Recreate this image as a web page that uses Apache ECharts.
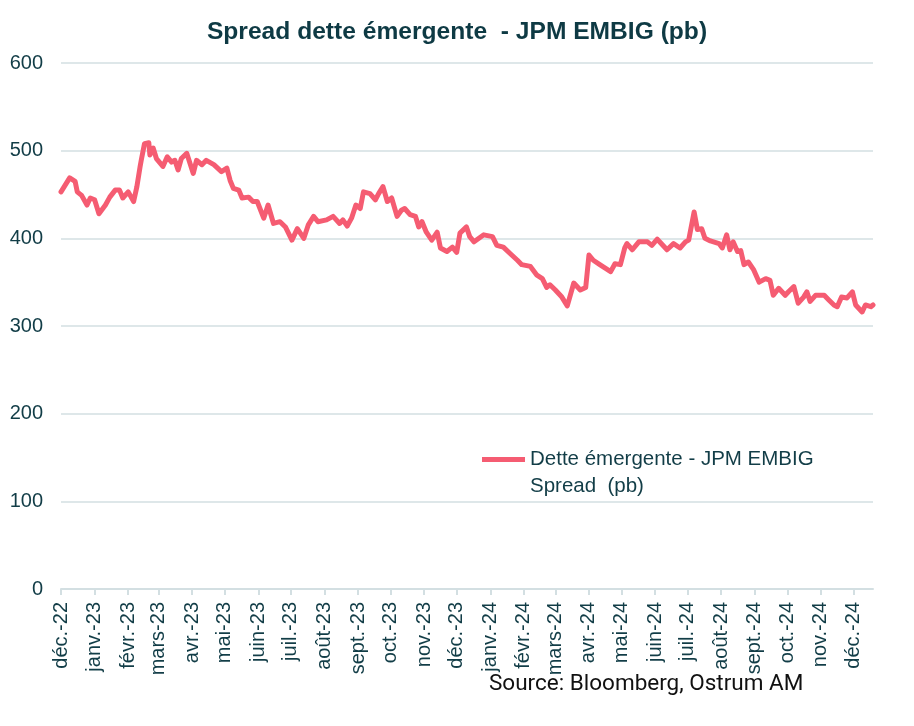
<!DOCTYPE html>
<html>
<head>
<meta charset="utf-8">
<script src="https://cdn.jsdelivr.net/npm/echarts@6/dist/echarts.min.js"></script>
<style>html,body{margin:0;padding:0;background:#fff}#c{width:914px;height:726px}</style>
</head>
<body>
<div id="c"></div>
<script>
const titleText = 'Spread dette émergente  - JPM EMBIG (pb)';
const seriesName = 'Dette émergente - JPM EMBIG Spread  (pb)';
const sourceText = 'Source: Bloomberg, Ostrum AM';

const dates = [
 '2022-12-01','2022-12-09','2022-12-14','2022-12-16','2022-12-20','2022-12-25','2022-12-28',
 '2023-01-01','2023-01-05','2023-01-11','2023-01-15','2023-01-20','2023-01-24','2023-01-27',
 '2023-02-01','2023-02-06','2023-02-09','2023-02-12','2023-02-13','2023-02-16','2023-02-20','2023-02-21','2023-02-24','2023-02-27',
 '2023-03-05','2023-03-09','2023-03-13','2023-03-16','2023-03-19','2023-03-22','2023-03-27',
 '2023-04-02','2023-04-05','2023-04-10','2023-04-14','2023-04-21','2023-04-28',
 '2023-05-03','2023-05-06','2023-05-09','2023-05-14','2023-05-17','2023-05-23','2023-05-27','2023-05-31',
 '2023-06-06','2023-06-10','2023-06-15','2023-06-21','2023-06-26',
 '2023-07-02','2023-07-07','2023-07-13','2023-07-17','2023-07-22','2023-07-26',
 '2023-08-03','2023-08-09','2023-08-15','2023-08-18','2023-08-22','2023-08-26','2023-08-30',
 '2023-09-03','2023-09-06','2023-09-12','2023-09-17','2023-09-20','2023-09-24','2023-09-28',
 '2023-10-02','2023-10-07','2023-10-11','2023-10-14','2023-10-19','2023-10-24','2023-10-27','2023-10-30',
 '2023-11-03','2023-11-08','2023-11-13','2023-11-16','2023-11-22','2023-11-27',
 '2023-12-01','2023-12-04','2023-12-10','2023-12-13','2023-12-17','2023-12-26',
 '2024-01-03','2024-01-07','2024-01-13','2024-01-19','2024-01-26','2024-01-30',
 '2024-02-07','2024-02-13','2024-02-18','2024-02-22','2024-02-25',
 '2024-03-01','2024-03-07','2024-03-12','2024-03-18','2024-03-24','2024-03-29',
 '2024-04-01','2024-04-05','2024-04-11','2024-04-16','2024-04-21','2024-04-25','2024-04-30',
 '2024-05-04','2024-05-06','2024-05-11','2024-05-17','2024-05-25','2024-05-29',
 '2024-06-03','2024-06-12','2024-06-18','2024-06-24','2024-06-29',
 '2024-07-02','2024-07-07','2024-07-10','2024-07-14','2024-07-17','2024-07-22','2024-07-30',
 '2024-08-02','2024-08-06','2024-08-09','2024-08-12','2024-08-16','2024-08-19','2024-08-22','2024-08-26','2024-08-31',
 '2024-09-05','2024-09-11','2024-09-15','2024-09-18','2024-09-23','2024-09-29',
 '2024-10-02','2024-10-07','2024-10-11','2024-10-16','2024-10-19','2024-10-22','2024-10-27',
 '2024-11-04','2024-11-08','2024-11-13','2024-11-16','2024-11-20','2024-11-25','2024-11-30',
 '2024-12-03','2024-12-09','2024-12-12','2024-12-17','2024-12-19'
];
const spread = [
 453,469,465,453,449,438,446,
 444,428,438,447,455,455,446,
 453,442,459,482,489,508,509,495,503,491,
 482,493,487,489,478,491,497,
 474,489,484,489,484,476,
 480,466,457,455,446,447,442,442,
 423,438,417,419,413,
 398,411,400,415,425,419,
 421,425,417,421,414,423,438,
 434,453,451,444,451,459,442,
 446,425,432,434,427,425,413,419,
 407,398,407,389,385,390,
 384,406,413,402,396,404,
 402,392,390,383,375,370,
 368,358,354,344,347,
 341,333,323,349,341,344,
 381,375,370,366,362,371,370,
 389,394,387,396,396,392,
 399,387,394,389,396,
 398,430,410,411,400,397,394,
 389,404,387,396,385,386,370,373,364,
 350,354,352,335,343,335,
 339,345,326,333,339,328,335,
 335,330,324,322,333,332,339,
 324,316,324,322,324
];

const tickDates = [
 '2022-12-01','2023-01-01','2023-02-01','2023-03-01','2023-04-01','2023-05-01','2023-06-01',
 '2023-07-01','2023-08-01','2023-09-01','2023-10-01','2023-11-01','2023-12-01',
 '2024-01-01','2024-02-01','2024-03-01','2024-04-01','2024-05-01','2024-06-01',
 '2024-07-01','2024-08-01','2024-09-01','2024-10-01','2024-11-01','2024-12-01'
];
const tickLabels = [
 'déc.-22','janv.-23','févr.-23','mars-23','avr.-23','mai-23','juin-23',
 'juil.-23','août-23','sept.-23','oct.-23','nov.-23','déc.-23',
 'janv.-24','févr.-24','mars-24','avr.-24','mai-24','juin-24',
 'juil.-24','août-24','sept.-24','oct.-24','nov.-24','déc.-24'
];
const yMin = 0, yMax = 600, yStep = 100;

function ts(s){ const p = s.split('-').map(Number); return Date.UTC(p[0], p[1]-1, p[2]); }
const tickTs = tickDates.map(ts);
const labelByTs = {};
tickTs.forEach((t,i)=>{ labelByTs[t] = tickLabels[i]; });

const textColor = '#123d47';
const gridColor = '#d3dfe2';
const lineColor = '#f55c72';

const chart = echarts.init(document.getElementById('c'), null, {renderer:'canvas'});
chart.setOption({
  animation: false,
  backgroundColor: '#fff',
  title: {
    text: titleText, left: 'center', top: 15,
    textStyle: {fontFamily: 'Liberation Sans, Arial, sans-serif', fontSize: 24.6, fontWeight: 'bold', color: '#0e3a44'}
  },
  grid: {left: 61, right: 41, top: 63, bottom: 137, containLabel: false},
  legend: {
    left: 482, top: 419, padding: 0, icon: 'rect', itemWidth: 43, itemHeight: 5, itemGap: 0,
    data: [seriesName],
    formatter: function(){ return '\nDette émergente - JPM EMBIG\nSpread  (pb)'; },
    textStyle: {fontFamily: 'Liberation Sans, Arial, sans-serif', fontSize: 20.5, color: textColor, lineHeight: 27}
  },
  xAxis: {
    type: 'value', min: ts(dates[0]), max: ts(dates[dates.length-1]),
    splitLine: {show: false},
    axisLine: {show: true, lineStyle: {color: gridColor, width: 2}},
    axisTick: {show: true, length: 6, lineStyle: {color: gridColor, width: 2}, customValues: tickTs},
    axisLabel: {
      customValues: tickTs, rotate: 90, margin: 13,
      fontFamily: 'Liberation Sans, Arial, sans-serif', fontSize: 20, color: textColor,
      formatter: function(v){ return labelByTs[v] || ''; }
    }
  },
  yAxis: {
    type: 'value', min: yMin, max: yMax, interval: yStep,
    axisLine: {show: false}, axisTick: {show: false},
    splitLine: {show: true, lineStyle: {color: gridColor, width: 1.5}},
    axisLabel: {margin: 18, fontFamily: 'Liberation Sans, Arial, sans-serif', fontSize: 20, color: textColor}
  },
  graphic: [{
    type: 'text', left: 489, top: 673,
    style: {text: sourceText, fontFamily: 'Roboto, sans-serif', fontSize: 22.5, fill: '#111'}
  }],
  series: [{
    name: seriesName, type: 'line', symbol: 'none', smooth: false,
    lineStyle: {color: lineColor, width: 5, join: 'round', cap: 'round'},
    itemStyle: {color: lineColor},
    data: dates.map((d,i)=>[ts(d), spread[i]])
  }]
});
</script>
</body>
</html>
